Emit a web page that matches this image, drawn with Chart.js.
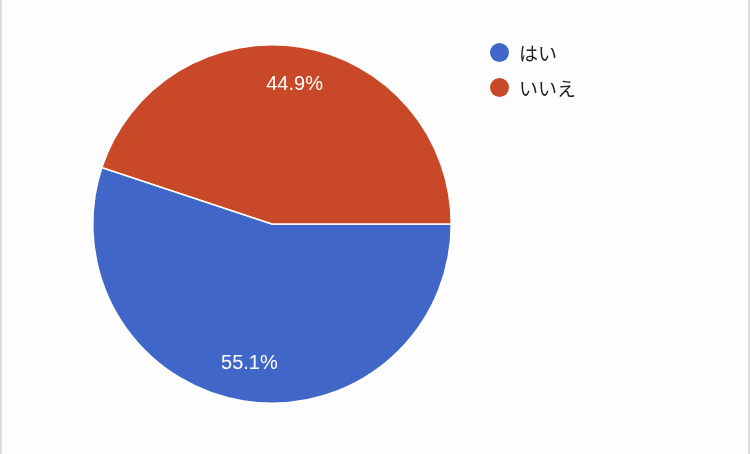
<!DOCTYPE html>
<html>
<head>
<meta charset="utf-8">
<script src="https://cdn.jsdelivr.net/npm/chart.js@4"></script>
<style>
  html, body { margin: 0; padding: 0; background: #fdfdfd; }
  #wrap {
    position: relative;
    width: 750px;
    height: 454px;
    box-sizing: border-box;
    border-left: 2px solid #dcdce2;
    border-right: 2px solid #dcdce2;
  }
  #chart { position: absolute; left: -2px; top: 0; }
  #legend {
    position: absolute;
    left: 488px;
    top: 35px;
    font-family: "Noto Sans CJK JP", "Noto Sans", sans-serif;
    font-size: 19px;
    color: #222;
  }
  .item { display: flex; align-items: center; height: 35px; }
  .dot { width: 19px; height: 19px; border-radius: 50%; margin-right: 10px; }
</style>
</head>
<body>
<div id="wrap">
  <canvas id="chart" width="750" height="454"></canvas>
  <div id="legend"></div>
</div>
<script>
const labels = ['はい', 'いいえ'];
const values = [55.1, 44.9];
const colors = ['#4066c7', '#c84827'];

const legendEl = document.getElementById('legend');
labels.forEach((label, i) => {
  const row = document.createElement('div');
  row.className = 'item';
  const dot = document.createElement('span');
  dot.className = 'dot';
  dot.style.background = colors[i];
  const text = document.createElement('span');
  text.textContent = label;
  row.append(dot, text);
  legendEl.appendChild(row);
});

// percent labels inside the slices
const pctLabels = {
  id: 'pctLabels',
  afterDatasetsDraw(chart) {
    const ctx = chart.ctx;
    const meta = chart.getDatasetMeta(0);
    const total = values.reduce((a, b) => a + b, 0);
    ctx.save();
    ctx.font = '20px "Liberation Sans", Arial, sans-serif';
    ctx.fillStyle = '#ffffff';
    ctx.textAlign = 'center';
    ctx.textBaseline = 'middle';
    meta.data.forEach((arc, i) => {
      const mid = (arc.startAngle + arc.endAngle) / 2;
      const r = arc.outerRadius * 0.79;
      const x = arc.x + Math.cos(mid) * r;
      const y = arc.y + Math.sin(mid) * r;
      ctx.fillText((values[i] / total * 100).toFixed(1) + '%', x, y);
    });
    ctx.restore();
  }
};

new Chart(document.getElementById('chart').getContext('2d'), {
  type: 'pie',
  data: {
    labels,
    datasets: [{
      data: values,
      backgroundColor: colors,
      borderColor: '#ffffff',
      borderWidth: 1.5
    }]
  },
  options: {
    responsive: false,
    animation: false,
    rotation: 90,
    layout: { padding: { left: 92, right: 298, top: 44, bottom: 50 } },
    plugins: {
      legend: { display: false },
      tooltip: { enabled: false }
    }
  },
  plugins: [pctLabels]
});
</script>
</body>
</html>
